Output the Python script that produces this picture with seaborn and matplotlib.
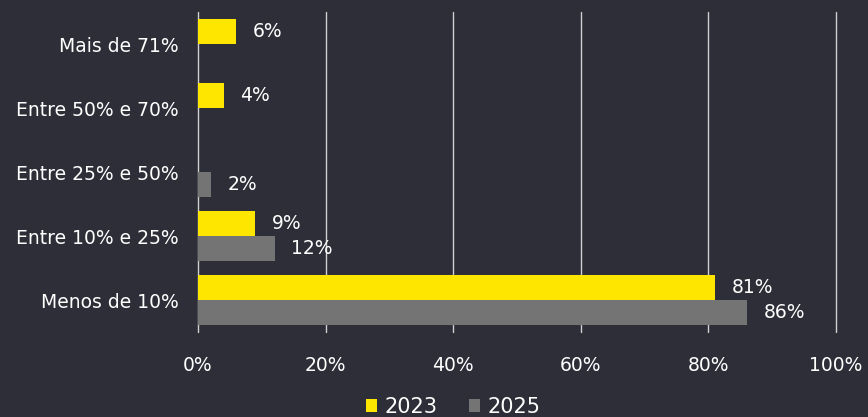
import matplotlib
matplotlib.use("Agg")
import matplotlib.pyplot as plt
import seaborn as sns
import pandas as pd
import numpy as np
from matplotlib.patches import Patch

categories = ["Mais de 71%", "Entre 50% e 70%", "Entre 25% e 50%",
              "Entre 10% e 25%", "Menos de 10%"]
values_2023 = [6, 4, 0, 9, 81]
values_2025 = [0, 0, 2, 12, 86]
series = ["2023", "2025"]
x_ticks = [0, 20, 40, 60, 80, 100]

BG = "#2e2e38"
YELLOW = "#ffe600"
GRAY = "#747474"
TEXT = "#ffffff"

df = pd.DataFrame({
    "categoria": categories * 2,
    "ano": [series[0]] * len(categories) + [series[1]] * len(categories),
    "valor": values_2023 + values_2025,
})

sns.set_theme(style="dark")
plt.rcParams["font.family"] = ["DejaVu Sans"]

fig = plt.figure(figsize=(8.68, 4.17), dpi=100, facecolor=BG)
ax = fig.add_axes([198 / 868, 1 - 332 / 417, 638 / 868, 320 / 417])
ax.set_facecolor(BG)

sns.barplot(data=df, y="categoria", x="valor", hue="ano", orient="h",
            order=categories, hue_order=series,
            palette={series[0]: YELLOW, series[1]: GRAY}, saturation=1,
            width=0.78, linewidth=0, ax=ax, legend=False, zorder=3)

ax.set_xlim(0, 100)
ax.set_ylim(len(categories) - 0.5, -0.5)
ax.set_xticks(x_ticks)
ax.set_xticklabels([f"{t}%" for t in x_ticks])
ax.xaxis.grid(True, color="#d0d0d0", linewidth=1.0)
for gl in ax.get_xgridlines():
    gl.set_clip_on(False)
ax.yaxis.grid(False)
ax.set_axisbelow(True)
for s in ax.spines.values():
    s.set_visible(False)
ax.tick_params(axis="both", length=0, colors=TEXT, labelsize=13.5)
ax.tick_params(axis="x", pad=17)
ax.tick_params(axis="y", pad=14)
ax.set_xlabel("")
ax.set_ylabel("")

# value labels on the non-empty bars
for container in ax.containers:
    labels = [f"{v:.0f}%" if v > 0 else "" for v in container.datavalues]
    ax.bar_label(container, labels=labels, padding=12, color=TEXT, fontsize=13.5)

handles = [Patch(facecolor=YELLOW, edgecolor="none"),
           Patch(facecolor=GRAY, edgecolor="none")]
fig.legend(handles, series, loc="center", bbox_to_anchor=(453 / 868, 1 - 407 / 417),
           ncol=2, frameon=False, fontsize=15, labelcolor=TEXT,
           handlelength=0.55, handleheight=0.55, handletextpad=0.35, columnspacing=1.5)

fig.savefig("out.png", dpi=100, facecolor=BG)
